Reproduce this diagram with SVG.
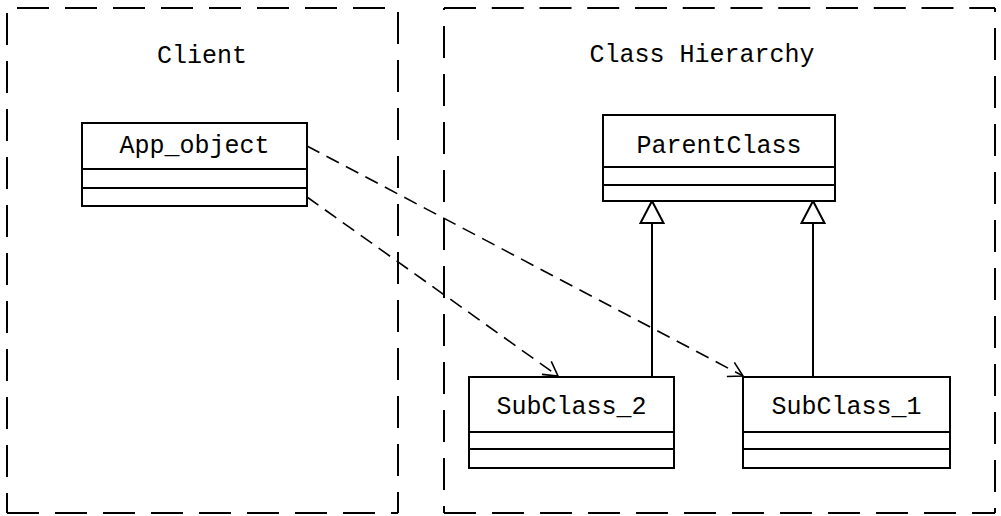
<svg xmlns="http://www.w3.org/2000/svg" width="1001" height="516" viewBox="0 0 1001 516">
<style>
.frame{stroke:#000;stroke-width:2;fill:none;stroke-dasharray:32 16}
.box{fill:#fff;stroke:#000;stroke-width:2}
.sep{stroke:#000;stroke-width:2}
text{font-family:"Liberation Mono","Courier New",monospace;font-size:25px;fill:#000;text-anchor:middle}
.dep{stroke:#000;stroke-width:1.6;fill:none;stroke-dasharray:14 8;marker-end:url(#open)}
.gen{stroke:#000;stroke-width:2;fill:none;marker-end:url(#tri)}
</style>
<defs>
<marker id="open" markerUnits="userSpaceOnUse" markerWidth="30" markerHeight="30" viewBox="-20 -15 30 30" refX="0" refY="0" orient="auto">
<path d="M-14,-8 L0,0 L-14,8" fill="none" stroke="#000" stroke-width="1.6"/>
</marker>
<marker id="tri" markerUnits="userSpaceOnUse" markerWidth="40" markerHeight="40" viewBox="-30 -20 40 40" refX="0" refY="0" orient="auto">
<path d="M0,0 L-22,-11.5 L-22,11.5 Z" fill="#fff" stroke="#000" stroke-width="2" stroke-linejoin="miter"/>
</marker>
</defs>
<g id="client">
<line class="frame" x1="7" y1="8" x2="398" y2="8" stroke-dashoffset="38"/>
<line class="frame" x1="7" y1="8" x2="7" y2="513" stroke-dashoffset="43"/>
<line class="frame" x1="398" y1="8" x2="398" y2="513" stroke-dashoffset="44"/>
<line class="frame" x1="7" y1="513" x2="398" y2="513" stroke-dashoffset="0"/>
<text x="202" y="63">Client</text>
</g>
<g id="class-hierarchy">
<line class="frame" x1="444" y1="8" x2="995" y2="8" style="stroke-dasharray:32 15.75"/>
<line class="frame" x1="995" y1="8" x2="995" y2="513" stroke-dashoffset="28"/>
<line class="frame" x1="444" y1="513" x2="995" y2="513" stroke-dashoffset="0"/>
<line class="frame" x1="444" y1="8" x2="444" y2="513" stroke-dashoffset="30"/>
<text x="702" y="62">Class Hierarchy</text>
</g>
<g id="connectors">
<line class="dep" x1="307" y1="146" x2="743" y2="376"/>
<line class="dep" x1="307" y1="197" x2="558" y2="376"/>
<line class="gen" x1="652" y1="377" x2="652" y2="201"/>
<line class="gen" x1="813" y1="377" x2="813" y2="201"/>
</g>
<g id="app_object">
<rect class="box" x="82" y="123" width="225" height="83"/>
<line class="sep" x1="82" y1="169" x2="307" y2="169"/>
<line class="sep" x1="82" y1="188" x2="307" y2="188"/>
<text x="194.5" y="153">App_object</text>
</g>
<g id="parentclass">
<rect class="box" x="603" y="115" width="232" height="86"/>
<line class="sep" x1="603" y1="167" x2="835" y2="167"/>
<line class="sep" x1="603" y1="185" x2="835" y2="185"/>
<text x="719" y="153">ParentClass</text>
</g>
<g id="subclass_2">
<rect class="box" x="469" y="377" width="205" height="91"/>
<line class="sep" x1="469" y1="432" x2="674" y2="432"/>
<line class="sep" x1="469" y1="449" x2="674" y2="449"/>
<text x="571.5" y="414">SubClass_2</text>
</g>
<g id="subclass_1">
<rect class="box" x="743" y="377" width="207" height="91"/>
<line class="sep" x1="743" y1="432" x2="950" y2="432"/>
<line class="sep" x1="743" y1="449" x2="950" y2="449"/>
<text x="846.5" y="414">SubClass_1</text>
</g>
</svg>
